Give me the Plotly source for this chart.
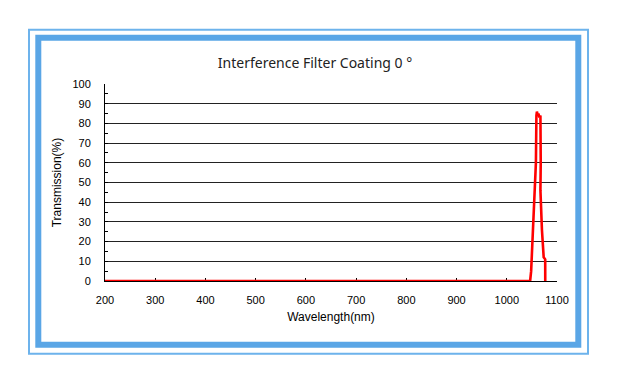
import plotly.graph_objects as go

# ---- data ----
wavelength_nm = [200, 400, 600, 800, 1000, 1046.5, 1048.5, 1052, 1055, 1057, 1058,
                 1059, 1060, 1061.5, 1063, 1065, 1067, 1067.6, 1067, 1070, 1073.5,
                 1076.5, 1076.6]
transmission_pct = [0, 0, 0, 0, 0, 0, 5, 26, 40, 50, 60,
                    84, 86, 84, 85, 83, 84, 60, 46, 26, 12,
                    11, 0]
y_ticks = [0, 10, 20, 30, 40, 50, 60, 70, 80, 90, 100]
x_ticks = [200, 300, 400, 500, 600, 700, 800, 900, 1000, 1100]

# page body adds an 8px offset; positions below are in reference pixels
OFF = 8
W, H = 618 - OFF, 384 - OFF
ML, MR, MT, MB = 105 - OFF, 61, 84 - OFF, 103
PW, PH = W - ML - MR, H - MT - MB


def px(x):
    return (x - OFF - ML) / PW


def py(y):
    return (H - MB - (y - OFF)) / PH


fig = go.Figure()
fig.add_trace(go.Scatter(
    x=wavelength_nm, y=transmission_pct, mode="lines",
    line=dict(color="#FF0000", width=2.6), hoverinfo="x+y", showlegend=False,
))

blue = "#5AA6E6"
fig.add_shape(type="rect", xref="paper", yref="paper",
              x0=px(29), x1=px(588), y0=py(353.7), y1=py(29.7),
              line=dict(color="#6DB3EC", width=2), layer="below")
fig.add_shape(type="rect", xref="paper", yref="paper",
              x0=px(38.3), x1=px(578.3), y0=py(344.8), y1=py(37.8),
              line=dict(color=blue, width=6), layer="below")

tick_font = dict(family="Liberation Sans, Arial, sans-serif", size=11, color="#000")
title_font = dict(family="Liberation Sans, Arial, sans-serif", size=12, color="#000")
fig.update_layout(
    width=W, height=H,
    margin=dict(l=ML, r=MR, t=MT, b=MB, pad=0),
    paper_bgcolor="white", plot_bgcolor="white",
    title=dict(text="Interference Filter Coating 0 °", xref="container", yref="container",
               x=(315 - OFF) / W, y=1 - (63 - OFF) / H, xanchor="center", yanchor="middle",
               font=dict(family="Noto Sans, Open Sans, sans-serif", size=14, color="#222")),
    xaxis=dict(range=[200, 1100], tickvals=x_ticks, ticks="inside", ticklen=3,
               tickcolor="#000", showline=True, linecolor="#000", linewidth=1,
               showgrid=False, zeroline=False, tickfont=tick_font,
               ticklabelstandoff=9,
               title=dict(text="Wavelength(nm)", standoff=7, font=title_font),
               layer="below traces"),
    yaxis=dict(range=[0, 100], tickvals=y_ticks, ticks="inside", ticklen=3,
               tickcolor="#000", showline=True, linecolor="#000", linewidth=1,
               showgrid=True, gridcolor="#222", gridwidth=1, zeroline=False,
               tickfont=tick_font, ticklabelstandoff=11,
               minor=dict(ticks="inside", ticklen=3, dtick=5, tickcolor="#000", showgrid=False),
               title=dict(text="Transmission(%)", standoff=8, font=title_font),
               layer="below traces"),
)

fig.write_html("out.html")
